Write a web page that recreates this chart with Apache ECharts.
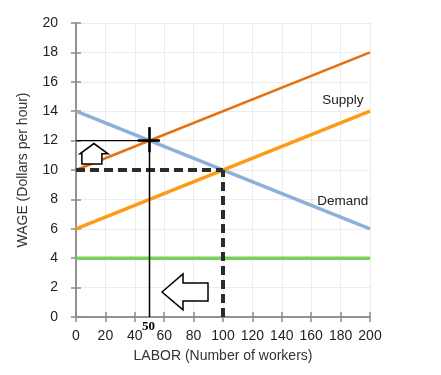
<!DOCTYPE html>
<html>
<head>
<meta charset="utf-8">
<script src="https://cdn.jsdelivr.net/npm/echarts@6/dist/echarts.min.js"></script>
<style>
  html, body { margin: 0; padding: 0; background: #fff; }
  #chart { width: 441px; height: 375px; }
</style>
</head>
<body>
<div id="chart"></div>
<script>
// chart data
const supplyHigh = [[0, 10], [200, 18]];
const supplyLow = [[0, 6], [200, 14]];
const demand = [[0, 14], [200, 6]];
const minWage = [[0, 4], [200, 4]];
const dashH = [[0, 10], [100, 10]];
const dashV = [[100, 0], [100, 10]];
const crossH = [[0, 12], [57, 12]];
const crossV = [[50, 0], [50, 12.9]];
const crossMarkH = [[42, 12], [57, 12]];
const crossMarkV = [[50, 11.2], [50, 12.9]];
const upArrow = [[4, 10.4], [4, 11.1], [2.7, 11.1], [12.2, 11.8], [21.8, 11.1], [17.6, 11.1], [17.6, 10.4]];
const leftArrow = [[58.5, 1.7], [72.8, 2.93], [72.8, 2.31], [89.8, 2.31], [89.8, 1.09], [72.8, 1.09], [72.8, 0.48]];
const curveLabels = [{ name: 'Supply', at: [181.5, 14.75] }, { name: 'Demand', at: [181.5, 7.9] }];
const markLabel = { text: '50', at: [50, 0] };

const chart = echarts.init(document.getElementById('chart'));

const lineSeries = (data, color, width, type) => ({
  type: 'line',
  data: data,
  symbol: 'none',
  silent: true,
  lineStyle: { color: color, width: width, type: type || 'solid', cap: 'butt' },
  z: 3
});

const polygonSeries = (pts) => ({
  type: 'custom',
  silent: true,
  data: [0],
  z: 5,
  renderItem: (params, api) => ({
    type: 'polygon',
    shape: { points: pts.map(p => api.coord(p)) },
    style: { fill: '#fff', stroke: '#000', lineWidth: 1.5 }
  })
});

const font = 'Liberation Sans, Arial';
const axisCommon = {
  type: 'value',
  axisLine: { show: true, lineStyle: { color: '#8c8c8c', width: 1.5 } },
  axisTick: { show: true, length: 5, lineStyle: { color: '#8c8c8c', width: 1.5 } },
  splitLine: { show: true, lineStyle: { color: '#ececec', width: 1 } },
  axisLabel: { color: '#1e1e2a', fontSize: 14, fontFamily: font },
  nameTextStyle: { color: '#333', fontSize: 14, fontFamily: font }
};

const innerTicks = {
  axisLabel: { show: false }, splitLine: { show: false },
  axisTick: { show: true, inside: true, length: 5, lineStyle: { color: '#8c8c8c', width: 1.5 } }
};

const option = {
  animation: false,
  grid: { left: 76, right: 71, top: 23, bottom: 58 },
  xAxis: [
    Object.assign({}, axisCommon, {
      min: 0, max: 200, interval: 20,
      name: 'LABOR (Number of workers)', nameLocation: 'middle', nameGap: 32,
      axisLabel: Object.assign({}, axisCommon.axisLabel, { margin: 12 })
    }),
    Object.assign({}, axisCommon, { min: 0, max: 200, interval: 20, position: 'bottom' }, innerTicks)
  ],
  yAxis: [
    Object.assign({}, axisCommon, {
      min: 0, max: 20, interval: 2,
      name: 'WAGE (Dollars per hour)', nameLocation: 'middle', nameGap: 46,
      axisLabel: Object.assign({}, axisCommon.axisLabel, { margin: 18 })
    }),
    Object.assign({}, axisCommon, { min: 0, max: 20, interval: 2, position: 'left' }, innerTicks)
  ],
  series: [
    lineSeries(minWage, '#79d15c', 3.5),
    lineSeries(demand, '#8cb1d9', 3.5),
    lineSeries(supplyLow, '#ff9a14', 3.5),
    lineSeries(supplyHigh, '#e5700f', 2.5),
    lineSeries(dashH, '#2b2b2b', 4, [9, 5]),
    lineSeries(dashV, '#2b2b2b', 4, [9, 5]),
    lineSeries(crossH, '#000', 1.3),
    lineSeries(crossV, '#000', 1.5),
    lineSeries(crossMarkH, '#000', 2.5),
    lineSeries(crossMarkV, '#000', 2.5),
    polygonSeries(upArrow),
    polygonSeries(leftArrow),
    {
      type: 'custom',
      silent: true,
      data: curveLabels.map((d, i) => i),
      z: 6,
      renderItem: (params, api) => {
        const d = curveLabels[params.dataIndex];
        const p = api.coord(d.at);
        return {
          type: 'text',
          x: p[0], y: p[1],
          style: {
            text: d.name, fill: '#222', fontSize: 13.5,
            fontFamily: font, align: 'center', verticalAlign: 'middle'
          }
        };
      }
    },
    {
      type: 'custom',
      silent: true,
      data: [0],
      z: 6,
      renderItem: (params, api) => {
        const p = api.coord(markLabel.at);
        return {
          type: 'text',
          x: p[0] - 1, y: p[1] + 10,
          style: {
            text: markLabel.text, fill: '#000', fontSize: 13, fontWeight: 'bold',
            fontFamily: 'Liberation Serif, DejaVu Serif, serif', align: 'center', verticalAlign: 'middle'
          }
        };
      }
    }
  ]
};

chart.setOption(option);
</script>
</body>
</html>
